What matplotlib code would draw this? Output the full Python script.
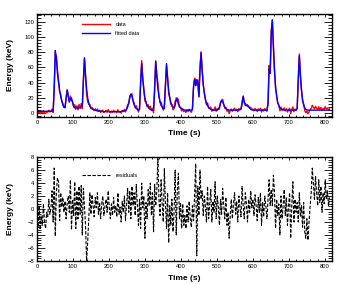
import numpy as np
import matplotlib
matplotlib.use("Agg")
import matplotlib.pyplot as plt
from matplotlib.ticker import MultipleLocator

# time grid (s)
time_s = np.arange(0, 816, 3)

# fitted curve (keV)
fitted = [
    3, 2.5, 2.5, 2.5, 2.5, 2.5, 2.5, 2.5, 2.5, 2.5,
    2.5, 2.5, 2.5, 2.5, 2.5, 3, 30, 82, 72, 52,
    40, 30, 22, 16, 11, 8, 7, 20, 30, 22,
    15, 18, 20, 14, 9, 7, 8, 7, 6, 8,
    7, 9, 10, 40, 72, 50, 32, 20, 13, 9,
    7, 5.5, 5, 4.5, 4, 3.5, 3, 3, 3, 2.5,
    2.5, 2, 2, 2, 2, 2, 2, 2, 2, 2,
    2, 2, 2, 2, 2, 2, 2, 2, 2, 2.5,
    2.5, 3, 3.5, 5, 8, 13, 20, 25, 22, 16,
    11, 8, 6, 5, 4, 5, 40, 65, 45, 30,
    20, 14, 10, 8, 6, 5, 4.5, 4, 4, 30,
    68, 48, 32, 22, 15, 10, 8, 6, 6, 35,
    65, 45, 30, 20, 14, 10, 8, 7, 10, 20,
    17, 12, 9, 7, 6, 5, 4.5, 4, 4, 4,
    4, 4, 4, 4, 5, 35, 44, 36, 44, 40,
    22, 55, 79, 55, 38, 26, 18, 13, 10, 8,
    6, 5, 4.5, 4, 4, 4, 4, 4, 5, 8,
    13, 17, 15, 11, 8, 6, 5, 4.5, 4, 4,
    4, 4, 4, 4, 4, 4, 4, 4, 4.5, 6,
    12, 22, 15, 10, 10, 11, 8, 7, 5, 4.5,
    4, 4, 4, 4, 4, 4, 4, 4, 4, 4,
    4, 4, 4, 4, 12, 58, 52, 105, 122, 85,
    55, 35, 22, 14, 10, 7, 6, 5, 4.5, 4,
    4, 4, 4, 4, 4, 4, 4, 4, 4, 4,
    4, 6, 45, 75, 50, 30, 18, 11, 7, 5,
    4.5, 4, 4, 4, 4, 4, 4, 4, 4, 4,
    4, 4, 4, 4, 4, 4, 4, 4, 4, 4, 4, 4,
]

# residuals (keV)
residuals = [
    -1.5, -2.8, 0.5, -3.2, -1.0, -2.5, 0.8, -2.0, -3.0, -0.5,
    -1.2, 1.5, -0.8, 0.2, 2.8, -2.0, 6.3, -4.2, 2.5, 4.8,
    4.2, -1.8, 2.5, 0.3, 1.8, -0.5, 1.2, -1.5, 0.8, 2.0,
    -0.5, 4.5, -3.2, 1.5, -1.0, 4.2, -3.0, 2.8, -1.5, 3.5,
    -0.8, 3.6, -4.0, 3.2, 0.5, -2.5, -8.0, -5.0, -1.5, 2.5,
    -0.8, 2.2, 0.5, -1.2, 1.8, 0.2, 2.5, -0.8, 1.0, -1.5,
    0.8, 2.0, -1.0, 0.5, 1.5, -0.5, 2.8, 0.2, -1.5, 0.8,
    -1.0, 1.8, -0.5, 0.5, -1.2, 2.5, -0.8, 0.3, -2.0, 1.2,
    -0.5, 2.0, -1.8, 0.8, 3.2, -0.5, 2.8, -1.5, 3.5, 0.5,
    2.5, -1.0, 3.8, 0.8, -2.5, 1.5, -3.0, 4.0, 0.2, 2.0,
    -4.5, 1.0, -1.5, 3.0, 0.5, 4.0, -1.0, 2.5, -3.5, 3.8,
    0.5, 2.8, 8.0, 1.5, -1.0, 4.5, 0.8, -2.0, 6.2, 1.0,
    -3.0, 2.5, -5.2, 0.5, -2.5, 1.5, -3.5, -0.5, 6.0, -4.0,
    2.8, 5.5, -1.5, 1.0, -3.0, 0.8, -2.5, -1.0, -3.0, 0.5,
    -2.0, 1.2, -1.5, -2.8, 0.5, -1.8, 2.0, 7.0, -7.2, 3.5,
    -1.0, 6.0, 1.5, 2.8, -1.0, 2.0, 0.5, -2.0, 3.5, -1.5,
    0.8, 3.0, -2.0, 1.2, -0.5, 4.2, -1.5, 2.0, 0.3, -2.5,
    1.5, -0.8, 3.2, 0.5, -1.5, 1.8, -2.5, -0.5, -4.5, -1.0,
    1.5, -1.5, 0.8, 2.5, -0.8, 1.2, -2.0, 2.0, 0.3, -1.2,
    3.5, 0.5, -1.5, 2.5, 0.8, -2.0, 1.5, -0.5, 2.8, 0.2,
    1.5, -1.0, 2.2, 0.5, -1.8, 1.8, -0.5, 2.5, -2.5, 1.0,
    -1.2, 2.0, 0.5, -1.5, 1.5, 4.5, 0.5, 3.0, 0.5, 5.2,
    2.5, -3.0, 1.5, -1.0, 0.8, -4.0, 2.0, -1.5, 0.5, 3.0,
    -1.0, 1.8, -2.5, 0.5, 2.5, -4.5, 0.5, 4.2, -2.0, 1.5,
    -0.5, 1.0, -2.0, 2.5, -1.2, 0.5, -2.8, 1.0, -3.5, -4.5,
    -1.5, -4.8, -2.0, 0.5, 2.5, 6.3, 4.0, 1.5, 5.0, 2.5,
    0.5, 4.5, 1.0, 3.5, -0.5, 2.5, 0.8, 4.5, 1.5, 2.8, 0.5, 1.8,
]

fitted = np.array(fitted, dtype=float)
residuals = np.array(residuals, dtype=float)
data = fitted + residuals

plt.rcParams['font.family'] = ['Liberation Sans', 'DejaVu Sans']

fig = plt.figure(figsize=(3.42, 2.84), dpi=100)
ax1 = fig.add_axes([0.108, 0.588, 0.863, 0.363])
ax2 = fig.add_axes([0.108, 0.081, 0.863, 0.366])


def style(ax, ymaj, ymin):
    ax.set_xlim(0, 820)
    ax.xaxis.set_major_locator(MultipleLocator(100))
    ax.xaxis.set_minor_locator(MultipleLocator(20))
    ax.yaxis.set_major_locator(MultipleLocator(ymaj))
    ax.yaxis.set_minor_locator(MultipleLocator(ymin))
    ax.tick_params(axis='both', which='both', direction='in', top=True, right=True,
                   labelsize=4.2, width=0.6)
    ax.tick_params(axis='x', which='major', length=2.5, pad=2)
    ax.tick_params(axis='x', which='minor', length=1.2)
    ax.tick_params(axis='y', which='major', length=6, pad=2)
    ax.tick_params(axis='y', which='minor', length=3)
    for s in ax.spines.values():
        s.set_linewidth(1.0)
    ax.set_xlabel('Time (s)', fontsize=6, fontweight='bold')
    ax.set_ylabel('Energy (keV)', fontsize=6, fontweight='bold')
    ax.yaxis.set_label_coords(-0.078, 0.5)


style(ax1, 20, 4)
ax1.set_ylim(-5, 130)
ax1.plot(time_s, data, color='red', lw=1.0, label='data')
ax1.plot(time_s, fitted, color='blue', lw=1.0, label='fitted data')
ax1.xaxis.set_label_coords(0.5, -0.13)
ax1.legend(loc='upper left', bbox_to_anchor=(0.153, 0.925), frameon=False, fontsize=4,
           handlelength=5, handletextpad=1, labelspacing=0.8, borderaxespad=0, borderpad=0)

style(ax2, 2, 0.4)
ax2.set_ylim(-8, 8)
ax2.plot(time_s, residuals, color='black', lw=0.8, ls=(0, (3, 1.5)), label='residuals')
ax2.xaxis.set_label_coords(0.5, -0.135)
ax2.legend(loc='upper left', bbox_to_anchor=(0.153, 0.85), frameon=False, fontsize=4,
           handlelength=5, handletextpad=1, borderaxespad=0, borderpad=0)

fig.savefig('out.png', dpi=100)
